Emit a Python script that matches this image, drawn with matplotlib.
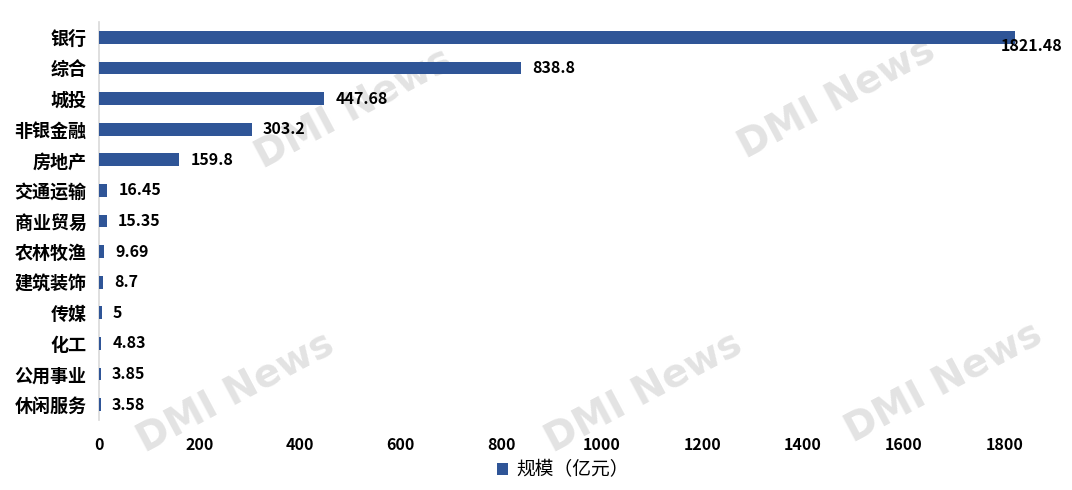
import matplotlib.pyplot as plt

plt.rcParams['font.family'] = ['Noto Sans CJK SC', 'DejaVu Sans']

categories = ['银行', '综合', '城投', '非银金融', '房地产', '交通运输', '商业贸易',
              '农林牧渔', '建筑装饰', '传媒', '化工', '公用事业', '休闲服务']
values = [1821.48, 838.8, 447.68, 303.2, 159.8, 16.45, 15.35,
          9.69, 8.7, 5, 4.83, 3.85, 3.58]
value_labels = ['1821.48', '838.8', '447.68', '303.2', '159.8', '16.45', '15.35',
                '9.69', '8.7', '5', '4.83', '3.85', '3.58']
x_ticks = [0, 200, 400, 600, 800, 1000, 1200, 1400, 1600, 1800]
legend_label = '规模（亿元）'

bar_color = '#2F5597'

fig = plt.figure(figsize=(10.72, 4.9), dpi=100)
ax = fig.add_axes([0.0924, 0.143, 0.882, 0.812])

# faint watermark, kept behind everything
for (wx, wy) in [(0.33, 0.78), (0.78, 0.80), (0.22, 0.20), (0.60, 0.20), (0.88, 0.22)]:
    fig.text(wx, wy, 'DMI News', fontsize=28, fontweight='bold', color='#e3e3e3',
             rotation=28, ha='center', va='center', zorder=-5,
             family=['DejaVu Sans'])
ax.patch.set_alpha(0)

pos = list(range(len(categories)))
ax.barh(pos, values, height=0.42, color=bar_color, label=legend_label, zorder=3)

for i, (v, lab) in enumerate(zip(values, value_labels)):
    if i == 0:
        ax.annotate(lab, (v, i), xytext=(12, -6.5), textcoords='offset points',
                    ha='center', va='center', fontsize=11.5, fontweight='bold', zorder=4)
    else:
        ax.annotate(lab, (v, i), xytext=(8, 0), textcoords='offset points',
                    ha='left', va='center', fontsize=11.5, fontweight='bold', zorder=4)

ax.set_xlim(0, 1880)
ax.set_ylim(len(categories) - 0.5, -0.5)
ax.set_yticks(pos)
ax.set_yticklabels(categories, fontsize=13, fontweight='bold')
ax.set_xticks(x_ticks)
ax.set_xticklabels([str(t) for t in x_ticks], fontsize=11.5, fontweight='bold')
ax.tick_params(axis='both', length=0)
ax.tick_params(axis='y', pad=9)
ax.tick_params(axis='x', pad=12)

for s in ['top', 'right', 'bottom']:
    ax.spines[s].set_visible(False)
ax.spines['left'].set_color('#d9d9d9')
ax.spines['left'].set_linewidth(1.2)

fig.legend(loc='center', bbox_to_anchor=(0.525, 0.041), frameon=False,
           fontsize=13.5, handlelength=0.6, handleheight=0.6, handletextpad=0.4)

fig.savefig('out.png', dpi=100)
